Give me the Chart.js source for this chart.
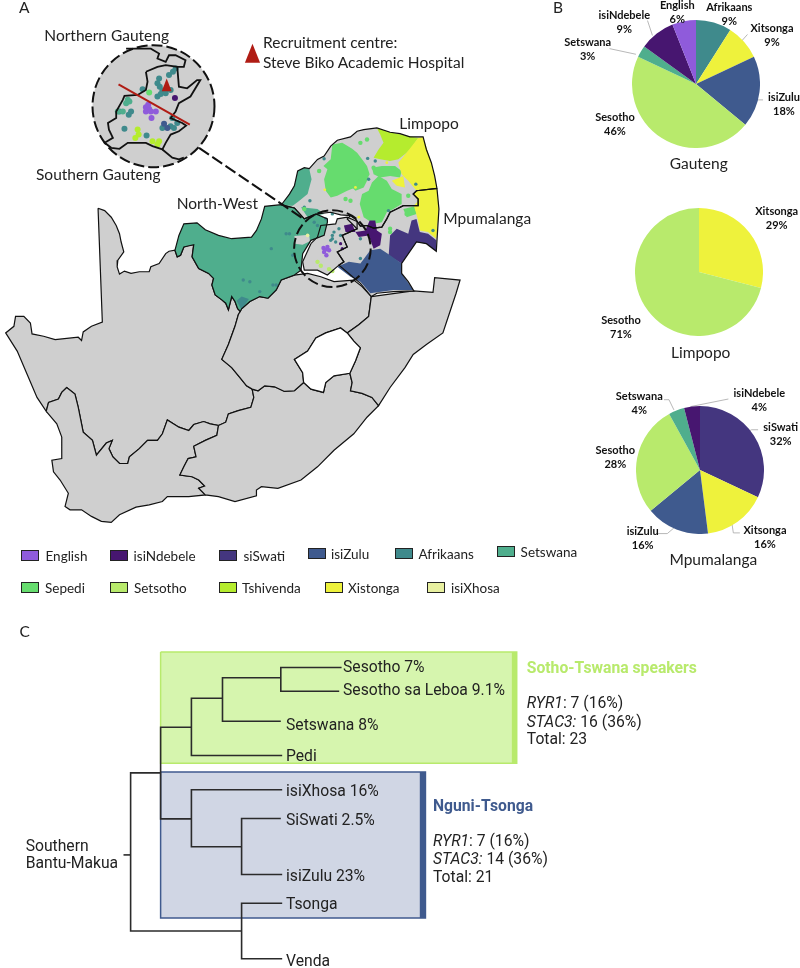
<!DOCTYPE html>
<html>
<head>
<meta charset="utf-8">
<script src="https://cdn.jsdelivr.net/npm/chart.js@4"></script>
<style>
html,body{margin:0;padding:0;background:#fff;}
#page{position:relative;width:800px;height:968px;overflow:hidden;}
#page canvas{position:absolute;}
.t{position:absolute;white-space:nowrap;color:#222;font-family:Lato,sans-serif;font-size:15.5px;line-height:18px;transform:translateY(-50%);}
.r{font-family:Roboto,sans-serif;font-size:15.7px;}
.p{position:absolute;text-align:center;white-space:nowrap;color:#111;font-family:Lato,sans-serif;font-weight:700;font-size:11px;line-height:14px;transform:translateX(-50%);}
.s{position:absolute;box-sizing:border-box;border:1px solid #222;}
</style>
</head>
<body>
<div id="page">
<canvas id="mapChart" width="800" height="968" style="left:0;top:0;width:800px;height:968px"></canvas>
<canvas id="pie0"></canvas>
<canvas id="pie1"></canvas>
<canvas id="pie2"></canvas>
</div>
<script>
// colours per language
const colors = {
  English:'#8F5BDB', isiNdebele:'#471670', siSwati:'#44367F', isiZulu:'#3F5A8E', Afrikaans:'#3F8A8C',
  Setswana:'#4FAE8D', Sepedi:'#66DC6E', Setsotho:'#B8EA6C', Tshivenda:'#B5EC2E', Xistonga:'#EEF23C', isiXhosa:'#E8F0A0',
  Sesotho:'#B8EA6C', Xitsonga:'#EEF23C'
};
const GREY = '#CFCFCF';

// pies
const gautengLabels = ['Afrikaans','Xitsonga','isiZulu','Sesotho','Setswana','isiNdebele','English'];
const gautengValues = [9,9,18,46,3,9,6];
const limpopoLabels = ['Xitsonga','Sesotho'];
const limpopoValues = [29,71];
const mpumaLabels = ['siSwati','Xitsonga','isiZulu','Sesotho','Setswana','isiNdebele'];
const mpumaValues = [32,16,16,28,4,4];

const gautengPos = [[729.3,6.7],[772,28.3],[784,96.7],[615,117],[587.7,41.7],[624.3,15],[677.3,5.3]];
const limpopoPos = [[776.7,210.7],[621,320]];
const mpumaPos = [[780.7,427.3],[765,530.3],[642.7,531],[615.3,450.3],[639.3,395.7],[759.3,393.3]];

// leader lines of the pie labels
const leaders = [
  [[650,16.7],[655,31.7]], [[611.7,45],[638.3,50.7]], [[751,30.7],[743.3,39.3]], [[766.7,96.7],[761,96.7],[759.3,98]],
  [[666.7,399],[671.7,399],[676.7,409.3]], [[731.7,398.3],[693.3,406]], [[761.7,429.3],[755,429.3],[750.7,431.7]],
  [[743.3,533.3],[736.7,533.3],[735,521.7]], [[659.3,534],[670,534],[676.7,528.3]]
];

const northernCape = [[285,18],[305,25],[325,45],[340,70],[350,95],[355,120],[363,150],[345,175],[343,195],[350,217],[365,208],[385,215],[410,210],[440,210],[445,195],[470,185],[490,155],[500,148],[518,145],[525,165],[535,160],[545,135],[560,130],[575,128],[570,165],[590,200],[620,215],[635,230],[630,250],[640,280],[660,295],[672,305],[680,325],[690,285],[700,300],[708,322],[716,330],[710,340],[700,375],[680,430],[660,475],[690,500],[715,530],[735,555],[752,565],[757,590],[748,620],[710,630],[680,640],[672,665],[650,675],[625,670],[605,663],[575,672],[560,690],[530,680],[495,658],[480,700],[465,720],[435,720],[410,745],[380,770],[375,790],[350,790],[330,770],[318,745],[328,720],[310,728],[280,765],[268,720],[240,695],[225,620],[215,580],[190,560],[175,575],[165,595],[135,605],[128,632],[100,590],[70,520],[40,450],[5,395],[30,375],[35,345],[60,345],[80,365],[85,398],[120,405],[155,415],[225,408],[235,418],[240,392],[265,375],[298,362],[285,18]];
const westernCape = [[128,632],[135,605],[165,595],[175,575],[190,560],[215,580],[225,620],[240,695],[268,720],[280,765],[310,728],[328,720],[318,745],[330,770],[350,790],[375,790],[380,770],[410,745],[435,720],[465,720],[480,700],[495,658],[530,680],[560,690],[575,672],[605,663],[625,670],[650,675],[645,705],[610,720],[575,738],[582,770],[558,775],[545,800],[533,825],[570,830],[590,840],[608,858],[590,865],[610,885],[560,890],[495,890],[480,905],[440,915],[400,922],[350,945],[325,968],[295,965],[265,950],[235,930],[200,930],[185,920],[195,880],[170,840],[150,815],[145,780],[175,775],[175,710],[160,670],[128,632]];
const easternCape = [[650,675],[672,665],[680,640],[710,630],[748,620],[757,590],[752,565],[770,570],[790,555],[820,558],[850,572],[880,570],[908,545],[930,565],[968,575],[975,545],[1000,525],[1048,517],[1055,545],[1050,570],[1085,578],[1115,590],[1135,615],[1100,650],[1060,700],[1000,750],[950,800],[900,840],[830,865],[780,860],[765,870],[765,888],[700,905],[650,890],[610,885],[590,865],[608,858],[590,840],[570,830],[533,825],[545,800],[558,775],[582,770],[575,738],[610,720],[645,705],[650,675]];
const freeState = [[710,340],[720,322],[745,300],[775,285],[800,290],[825,265],[840,235],[880,220],[920,215],[960,225],[1000,240],[1060,235],[1085,255],[1113,285],[1105,345],[1075,370],[1040,395],[1020,380],[975,395],[945,410],[920,450],[880,475],[905,515],[908,545],[880,570],[850,572],[820,558],[790,555],[770,570],[752,565],[735,555],[715,530],[690,500],[660,475],[680,430],[700,375],[710,340]];
const lesotho = [[1040,395],[1020,380],[975,395],[945,410],[920,450],[880,475],[905,515],[908,545],[930,565],[968,575],[975,545],[1000,525],[1048,517],[1065,480],[1080,440],[1060,420],[1040,395]];
const kzn = [[1113,285],[1240,268],[1300,272],[1305,228],[1382,235],[1370,275],[1345,350],[1330,395],[1280,430],[1240,460],[1215,500],[1170,560],[1135,615],[1115,590],[1085,578],[1050,570],[1055,545],[1048,517],[1065,480],[1080,440],[1060,420],[1040,395],[1075,370],[1105,345],[1113,285]];

// northern provinces
const northWest = [[38,565],[50,520],[65,485],[105,482],[130,503],[170,520],[210,530],[270,525],[285,505],[300,470],[310,432],[360,427],[400,437],[430,470],[465,455],[500,470],[500,480],[490,520],[450,535],[425,575],[420,625],[400,640],[360,655],[345,685],[320,710],[295,705],[265,720],[240,742],[236,750],[228,742],[220,720],[210,705],[200,745],[192,725],[180,715],[160,700],[150,670],[155,650],[140,635],[110,620],[90,585],[95,548],[65,555],[55,580],[45,585],[38,565]];
const limpopo = [[360,428],[385,395],[400,370],[410,325],[430,315],[445,318],[470,290],[490,280],[510,250],[530,232],[570,222],[590,205],[610,200],[650,195],[690,208],[720,212],[750,222],[790,222],[800,260],[815,300],[825,340],[832,378],[770,385],[760,395],[775,410],[775,430],[730,430],[710,440],[690,450],[680,470],[665,495],[640,498],[620,490],[600,492],[585,470],[570,460],[540,458],[510,450],[470,455],[430,470],[400,437],[360,428]];
const mpumalanga = [[832,378],[770,385],[760,395],[775,410],[775,430],[730,430],[710,440],[690,450],[680,470],[665,495],[640,498],[620,490],[600,492],[585,470],[570,460],[560,470],[590,500],[545,520],[560,555],[530,570],[550,600],[535,610],[570,640],[600,665],[633,705],[650,695],[700,690],[762,688],[745,660],[725,635],[725,605],[735,590],[770,540],[800,545],[830,568],[838,440],[832,378]];
const gauteng = [[450,545],[425,600],[430,625],[470,625],[500,640],[535,610],[550,600],[530,570],[560,555],[545,520],[590,500],[590,478],[560,465],[530,470],[525,485],[480,490],[470,525],[450,545]];

const setswanaNorth = [[360,430],[385,395],[400,370],[410,325],[430,315],[445,318],[452,350],[440,395],[415,415],[395,430]];
const setswanaPatch = [[420,435],[470,440],[490,455],[440,465]];
const greyPatch = [[400,522],[445,518],[447,538],[425,548],[402,545]];
const afrikaansTip = [[225,718],[240,705],[262,712],[240,745]];
const sepediBlob1 = [[515,245],[545,240],[575,258],[590,270],[605,290],[620,310],[628,335],[615,360],[585,375],[560,385],[530,400],[510,405],[495,385],[490,350],[500,320],[488,310],[510,290]];
const sepediBlob2 = [[605,395],[625,385],[635,360],[655,340],[680,355],[695,380],[725,395],[725,425],[700,440],[680,450],[665,480],[640,485],[610,465],[598,425]];
const sepediBlob3 = [[635,315],[665,310],[705,310],[725,325],[720,345],[690,340],[660,345],[640,335]];
const sepediBlob4 = [[585,385],[610,375],[625,345],[600,345],[575,375]];
const sepediBlob5 = [[730,440],[765,432],[770,455],[740,465]];
const tshivendaArea = [[650,195],[690,208],[775,225],[755,255],[740,270],[715,290],[690,295],[660,290],[640,285],[655,260],[670,240],[660,215]];
const xitsongaArea = [[775,225],[790,222],[815,300],[832,378],[838,440],[830,530],[805,510],[780,505],[775,475],[762,430],[775,415],[760,395],[770,385],[745,355],[725,335],[715,300],[740,270]];
const xitsongaPatch = [[695,355],[730,340],[735,375],[710,370]];
const swatiArea = [[685,590],[690,520],[710,500],[745,515],[755,475],[770,470],[780,510],[805,515],[830,535],[830,568],[800,545],[770,540],[735,590],[725,605],[700,590]];
const zuluArea = [[530,615],[565,600],[600,605],[630,565],[660,560],[690,580],[725,605],[725,635],[760,685],[700,685],[630,695],[600,660],[570,645]];
const ndebeleArea = [[550,490],[575,485],[585,510],[615,505],[628,475],[645,475],[650,505],[665,515],[660,550],[640,560],[625,520],[595,525],[585,510],[555,510]];

// dots on the map
const dotsAfrikaans = [[490,288],[622,287],[625,350],[447,415],[430,435],[515,455],[520,510],[515,520],[515,530],[525,540],[510,535],[540,520],[535,500],[600,530],[600,590],[685,445],[245,655],[265,660],[335,670],[345,670],[295,690],[385,515],[375,515],[330,560],[395,580],[495,470],[820,505],[768,365],[645,295],[460,480],[470,490]];
const dotsSepedi = [[620,230],[600,240],[475,325],[740,455],[690,510],[640,315],[700,320],[745,400],[760,450],[430,440],[555,410],[570,415],[690,500]];
const dotsEnglish = [[488,558],[494,563],[490,570],[497,580],[505,565],[500,555]];
const dotsNdebele = [[540,545],[545,560]];
const dotsTshivenda = [[470,600],[480,612],[505,622],[515,628]];
const dotsYellow = [[492,382],[585,375],[750,345],[595,465],[680,300]];
const dotsXhosa = [[440,520]];

// Gauteng inset
const insetOutline = [[430,205],[465,190],[490,185],[525,190],[530,250],[555,255],[585,230],[595,230],[565,280],[530,300],[520,325],[505,345],[540,360],[552,368],[530,385],[505,395],[490,420],[480,440],[450,430],[430,420],[415,420],[375,420],[350,438],[325,435],[305,420],[330,405],[318,380],[315,360],[340,345],[340,325],[360,290],[365,278],[405,275],[430,260],[435,235],[430,205]];
const insetNorth = [[370,135],[445,135],[470,150],[465,165],[490,175],[500,155],[520,155],[550,170],[545,190],[525,190]];
const insetSouth = [[480,440],[510,465],[530,470],[545,465]];
const insetRed = [[347,243],[563,365]];
const insetTriangle = [[478,264],[508,264],[493,225],[478,264]];
const legendTriangle = [[730,178],[776,178],[753,120],[730,178]];
const insetDots = {
  Afrikaans:[[470,225],[465,240],[472,250],[480,262],[500,215],[512,205],[520,195],[465,280],[475,272],[490,270],[505,260],[420,258],[510,345],[505,370],[515,375],[480,375],[365,377],[378,335],[385,325],[350,325],[432,398],[525,360]],
  Setswana:[[375,290],[370,300],[380,295],[345,325],[360,325]],
  Sepedi:[[440,268]],
  English:[[430,312],[440,318],[430,325],[445,325],[460,325],[447,345],[437,305]],
  isiNdebele:[[518,284]],
  isiZulu:[[485,362],[495,375]],
  Tshivenda:[[405,380],[408,395],[398,405],[450,415],[465,425],[470,415]]
};
const connector = [[197,145],[303,217]];

// tree, page units
const greenBox = [[158.2,653.3],[517.9,653.3],[517.9,765.7],[158.2,765.7],[158.2,653.3]];
const greenBar = [[513,653.3],[517.9,653.3],[517.9,765.7],[513,765.7],[513,653.3]];
const blueBox = [[158.2,774.3],[425.7,774.3],[425.7,921.7],[158.2,921.7],[158.2,774.3]];
const blueBar = [[420,774.3],[425.7,774.3],[425.7,921.7],[420,921.7],[420,774.3]];
const treeLines = [
  [[120.7,858],[127.9,858]], [[158.2,775.3],[127.9,775.3],[127.9,934.7],[240,934.7]],
  [[281,906.7],[240,906.7],[240,962.7],[281,962.7]],
  [[189.3,729.3],[158.2,729.3],[158.2,821.7],[189.3,821.7]],
  [[220.7,700],[189.3,700],[189.3,757.7],[281,757.7]],
  [[279.6,679.3],[220.7,679.3],[220.7,723.3],[279.6,723.3]],
  [[341,669],[279.6,669],[279.6,693],[338.6,693]],
  [[281,792.3],[189.3,792.3],[189.3,849.7],[240,849.7]],
  [[279.6,821.3],[240,821.3],[240,877.7],[281,877.7]]
];

// text on the page: text, x, y, class
const pageTexts = [
  ['A',19,7,''],['B',553,7,''],['C',19.6,631,''],
  ['Northern Gauteng',44.3,35,''],['Southern Gauteng',36,174,''],
  ['Recruitment centre:',263,41.7,''],['Steve Biko Academic Hospital',263,61.7,''],
  ['North-West',176.7,202.7,''],['Limpopo',399.3,122.7,''],['Mpumalanga',443.3,217.7,''],
  ['Sesotho 7%',343,666.7,'r'],['Sesotho sa Leboa 9.1%',343,690,'r'],['Setswana 8%',286,725,'r'],['Pedi',286,756,'r'],
  ['isiXhosa 16%',286,790.7,'r'],['SiSwati 2.5%',286,820,'r'],['isiZulu 23%',286,875.7,'r'],['Tsonga',286,904,'r'],['Venda',286,961,'r'],
  ['Southern',25.7,845.7,'r'],['Bantu-Makua',25.7,863.3,'r'],
  ['<i>RYR1</i>: 7 (16%)',526.8,703,'r'],['<i>STAC3:</i> 16 (36%)',526.8,721.7,'r'],['Total: 23',526.8,739,'r'],
  ['<i>RYR1</i>: 7 (16%)',433,841.3,'r'],['<i>STAC3:</i> 14 (36%)',433,859.3,'r'],['Total: 21',433,877,'r']
];
const pieTitles = [['Gauteng',698.7,163.3],['Limpopo',700.7,352.3],['Mpumalanga',713.3,559.3]];
const legendNames = ['English','isiNdebele','siSwati','isiZulu','Afrikaans','Setswana','Sepedi','Setsotho','Tshivenda','Xistonga','isiXhosa'];
const legendSwatchX = [21.3,109.5,219.4,307.5,394.6,496.6,21.3,110,218.7,325,427.4];
const legendSwatchY = [549.6,549.6,550,548,548,545.5,582,581.6,582,582,582];
const legendTextX = [45.5,133.6,243.5,331,418.4,520.6,45,134,242,348,451];

const page = document.getElementById('page');

function crop6(p){return p.map(a=>({x:a[0]/3,y:200+a[1]/3}));}
function crop5(p){return p.map(a=>({x:160+a[0]/3,y:60+a[1]/3}));}
function crop4(p){return p.map(a=>({x:a[0]/3,y:a[1]/3}));}
function plain(p){return p.map(a=>({x:a[0],y:a[1]}));}

let datasets = [];
function poly(data,fill,line,width){
  datasets.push({type:'scatter',data:data,showLine:true,tension:0,pointRadius:0,
    fill:fill?'shape':false,backgroundColor:fill||'transparent',borderColor:line||'transparent',borderWidth:width||0});
}
function path(data,line,width,dash){
  datasets.push({type:'scatter',data:data,showLine:true,tension:0,pointRadius:0,fill:false,
    borderColor:line,borderWidth:width,borderDash:dash||[]});
}
function dots(data,color,r){
  datasets.push({type:'scatter',data:data,showLine:false,pointRadius:r,pointBackgroundColor:color,pointBorderWidth:0});
}

// tree boxes
poly(plain(greenBox),'#D6F5AE',colors.Setsotho,1.5);
poly(plain(greenBar),colors.Setsotho);
poly(plain(blueBox),'#D0D6E4',colors.isiZulu,1.5);
poly(plain(blueBar),colors.isiZulu);
treeLines.forEach(l=>path(plain(l),'#2b2b2b',1.6));

// base map
[northernCape,westernCape,easternCape,freeState,kzn].forEach(p=>poly(crop6(p),GREY,'#111',1.2));
poly(crop6(lesotho),'#fff','#111',1.2);
[limpopo,mpumalanga,gauteng].forEach(p=>poly(crop5(p),GREY));
poly(crop5(northWest),colors.Setswana);
[setswanaNorth,setswanaPatch].forEach(p=>poly(crop5(p),colors.Setswana));
poly(crop5(greyPatch),GREY);
poly(crop5(afrikaansTip),colors.Afrikaans);
[sepediBlob1,sepediBlob2,sepediBlob3,sepediBlob4,sepediBlob5].forEach(p=>poly(crop5(p),colors.Sepedi));
poly(crop5(tshivendaArea),colors.Tshivenda);
[xitsongaArea,xitsongaPatch].forEach(p=>poly(crop5(p),colors.Xistonga));
poly(crop5(swatiArea),colors.siSwati);
poly(crop5(zuluArea),colors.isiZulu);
poly(crop5(ndebeleArea),colors.isiNdebele);
dots(crop5(dotsAfrikaans),colors.Afrikaans,1.7);
dots(crop5(dotsSepedi),colors.Sepedi,2.2);
dots(crop5(dotsEnglish),colors.English,2.2);
dots(crop5(dotsNdebele),colors.isiNdebele,1.6);
dots(crop5(dotsTshivenda),colors.Setsotho,2.2);
dots(crop5(dotsYellow),colors.Xistonga,1.4);
dots(crop5(dotsXhosa),colors.isiXhosa,1.8);
[northWest,limpopo,mpumalanga,gauteng].forEach(p=>path(crop5(p),'#111',1.2));

// inset
Object.keys(insetDots).forEach(k=>dots(crop4(insetDots[k]),colors[k],3));
path(crop4(insetOutline),'#111',1.8);
path(crop4(insetNorth),'#111',1.8);
path(crop4(insetSouth),'#111',1.8);
path(crop4(insetRed),'#B01C14',2);
poly(crop4(insetTriangle),'#B01C14');
poly(crop4(legendTriangle),'#B01C14');
path(plain(connector),'#111',2,[12,4]);

// pie leader lines
leaders.forEach(l=>path(plain(l),'#A6A6A6',0.8));

datasets.forEach((d,i)=>{d.order=datasets.length-i;});

// the circles of the Gauteng inset
const rings = {
  id:'rings',
  beforeDatasetsDraw(c){
    const g=c.ctx;
    g.save();g.fillStyle=GREY;g.beginPath();
    g.arc(c.scales.x.getPixelForValue(151),c.scales.y.getPixelForValue(103),61,0,Math.PI*2);g.fill();g.restore();
  },
  afterDatasetsDraw(c){
    const g=c.ctx;
    g.save();g.strokeStyle='#111';g.lineWidth=2;g.setLineDash([11,4]);
    g.beginPath();g.arc(c.scales.x.getPixelForValue(151),c.scales.y.getPixelForValue(103),61,0,Math.PI*2);g.stroke();
    g.beginPath();g.arc(c.scales.x.getPixelForValue(331.7),c.scales.y.getPixelForValue(246.7),38.3,0,Math.PI*2);g.stroke();
    g.restore();
  }
};

new Chart(document.getElementById('mapChart'),{
  type:'scatter',
  data:{datasets:datasets},
  plugins:[rings],
  options:{
    responsive:false,animation:false,events:[],clip:false,
    layout:{padding:0},
    plugins:{legend:{display:false},tooltip:{enabled:false}},
    scales:{x:{type:'linear',display:false,min:0,max:800},y:{type:'linear',display:false,min:0,max:968,reverse:true}}
  }
});

function drawPie(id,labels,values,cx,cy,r){
  const cv=document.getElementById(id);
  cv.width=2*r;cv.height=2*r;
  cv.style.cssText='left:'+(cx-r)+'px;top:'+(cy-r)+'px;width:'+(2*r)+'px;height:'+(2*r)+'px';
  new Chart(cv,{
    type:'pie',
    data:{labels:labels,datasets:[{data:values,backgroundColor:labels.map(l=>colors[l]),borderWidth:0}]},
    options:{responsive:false,animation:false,events:[],layout:{padding:0},plugins:{legend:{display:false},tooltip:{enabled:false}}}
  });
}
drawPie('pie0',gautengLabels,gautengValues,695.7,83.5,64);
drawPie('pie1',limpopoLabels,limpopoValues,698.7,272.3,64);
drawPie('pie2',mpumaLabels,mpumaValues,699.7,470,64);

function addText(html,x,y,cls){
  const d=document.createElement('div');
  d.className='t '+cls;d.innerHTML=html;d.style.left=x+'px';d.style.top=y+'px';
  page.appendChild(d);
  return d;
}
pageTexts.forEach(t=>addText(t[0],t[1],t[2],t[3]));
pieTitles.forEach(t=>{const d=addText(t[0],t[1],t[2],'');d.style.transform='translate(-50%,-50%)';});
let h=addText('Sotho-Tswana speakers',526.8,667.7,'r');h.style.fontWeight='700';h.style.color=colors.Setsotho;
h=addText('Nguni-Tsonga',433,805.7,'r');h.style.fontWeight='700';h.style.color=colors.isiZulu;

function pieLabels(labels,values,pos){
  labels.forEach((l,i)=>{
    const d=document.createElement('div');
    d.className='p';d.innerHTML=l+'<br>'+values[i]+'%';
    d.style.left=pos[i][0]+'px';d.style.top=(pos[i][1]-7)+'px';
    page.appendChild(d);
  });
}
pieLabels(gautengLabels,gautengValues,gautengPos);
pieLabels(limpopoLabels,limpopoValues,limpopoPos);
pieLabels(mpumaLabels,mpumaValues,mpumaPos);

legendNames.forEach((n,i)=>{
  const s=document.createElement('div');
  s.className='s';s.style.cssText='left:'+legendSwatchX[i]+'px;top:'+legendSwatchY[i]+'px;width:18px;height:11px;background:'+colors[n];
  page.appendChild(s);
  const d=addText(n,legendTextX[i],legendSwatchY[i]+6,'');
  d.style.fontSize='13.5px';
});
</script>
</body>
</html>
